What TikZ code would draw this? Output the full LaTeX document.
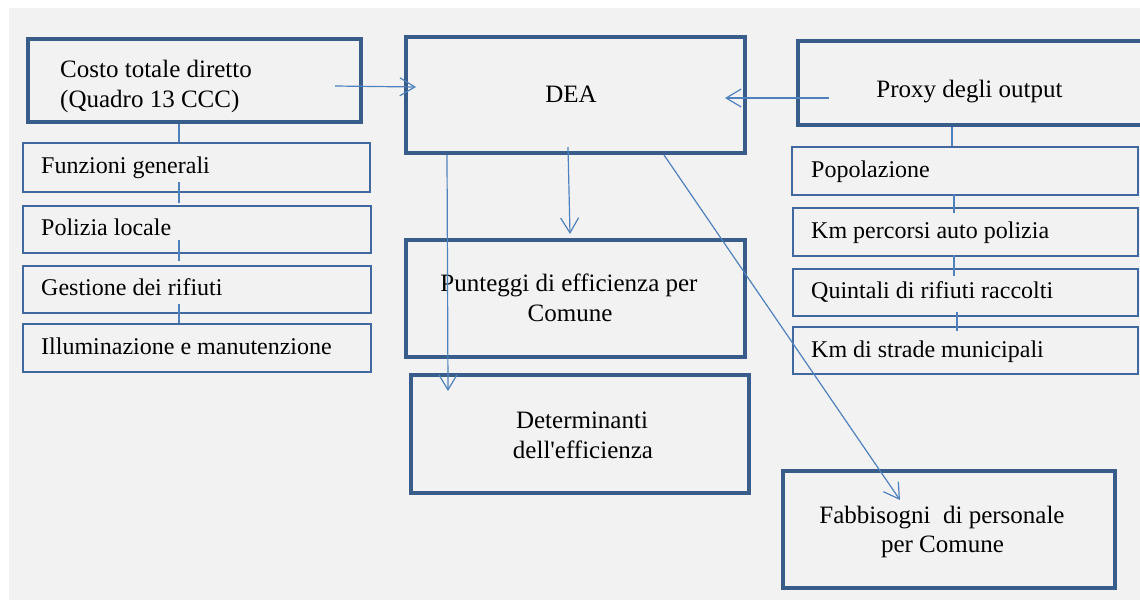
\documentclass[tikz,border=0pt]{standalone}
\usepackage{fontspec}
\setmainfont{Liberation Serif}
\usetikzlibrary{arrows.meta}
\definecolor{bgc}{HTML}{F2F2F2}
\definecolor{boxc}{HTML}{385D8A}
\definecolor{thinc}{HTML}{4169A0}
\definecolor{linec}{HTML}{4F81BD}
\tikzset{
  bigbox/.style={draw=boxc, line width=4pt, rectangle, inner sep=0pt},
  smallbox/.style={draw=thinc, line width=1.4pt, rectangle, inner sep=0pt},
  bigtxt/.style={font=\fontsize{25}{29}\selectfont, inner sep=0pt, anchor=base, text=black},
  lefttxt/.style={font=\fontsize{25}{29}\selectfont, inner sep=0pt, anchor=base west, text=black},
  smalltxt/.style={font=\fontsize{24}{27}\selectfont, inner sep=0pt, anchor=base west, text=black},
  link/.style={draw=linec, line width=1.2pt},
  arr/.style={link, -{Straight Barb[length=15pt,width=18pt]}},
}
\begin{document}
\begin{tikzpicture}[x=1pt,y=-1pt]
\useasboundingbox (0,0) rectangle (1140,600);
\clip (0,0) rectangle (1140,600);
\fill[bgc] (9,8) rectangle (1140,600);

% big boxes
\node[bigbox, minimum width=333pt, minimum height=83pt] (costo) at (194.5,80.5) {};
\node[bigbox, minimum width=339pt, minimum height=116pt] (dea) at (575.5,95) {};
\node[bigbox, minimum width=362pt, minimum height=84pt] (proxy) at (979,83) {};
\node[bigbox, minimum width=339pt, minimum height=117pt] (punt) at (575.5,298.5) {};
\node[bigbox, minimum width=338pt, minimum height=118pt] (det) at (580,434) {};
\node[bigbox, minimum width=332pt, minimum height=117pt] (fabb) at (949,529.5) {};

% small boxes left
\node[smallbox, minimum width=347pt, minimum height=49pt] (funz) at (196.5,167.5) {};
\node[smallbox, minimum width=348pt, minimum height=47pt] (poliz) at (197,229.5) {};
\node[smallbox, minimum width=348pt, minimum height=47pt] (gest) at (197,289.5) {};
\node[smallbox, minimum width=348pt, minimum height=48pt] (illum) at (197,348) {};
% small boxes right
\node[smallbox, minimum width=346pt, minimum height=48pt] (pop) at (965,171) {};
\node[smallbox, minimum width=345pt, minimum height=48pt] (kmp) at (965.5,232) {};
\node[smallbox, minimum width=345pt, minimum height=47pt] (quint) at (965.5,292.5) {};
\node[smallbox, minimum width=345pt, minimum height=47pt] (kms) at (965.5,350.5) {};

% texts
\node[lefttxt] (costoA) at (60,77) {Costo totale diretto};
\node[lefttxt] (costoB) at (60,107) {(Quadro 13 CCC)};
\node[bigtxt] (deaT) at (571,102) {DEA};
\node[bigtxt] (proxyT) at (969.5,97) {Proxy degli output};
\node[bigtxt] (puntA) at (569,291) {Punteggi di efficienza per};
\node[bigtxt] (puntB) at (570,321) {Comune};
\node[bigtxt] (detA) at (582,428) {Determinanti};
\node[bigtxt] (detB) at (583,458) {dell\textquotesingle efficienza};
\node[bigtxt] (fabbA) at (942,523) {Fabbisogni\ \ di personale};
\node[bigtxt] (fabbB) at (942.5,552) {per Comune};

\node[smalltxt] (funzT) at (41,173) {Funzioni generali};
\node[smalltxt] (polizT) at (41,235.5) {Polizia locale};
\node[smalltxt] (gestT) at (41,295) {Gestione dei rifiuti};
\node[smalltxt] (illumT) at (41,354) {Illuminazione e manutenzione};
\node[smalltxt] (popT) at (811,177) {Popolazione};
\node[smalltxt] (kmpT) at (811,238) {Km percorsi auto polizia};
\node[smalltxt] (quintT) at (811,298) {Quintali di rifiuti raccolti};
\node[smalltxt] (kmsT) at (811,357) {Km di strade municipali};

% connector end points
\coordinate (c1s) at (335,86);   \coordinate (c1e) at (416,87);
\coordinate (c2s) at (829,98);   \coordinate (c2e) at (725,98);
\coordinate (c3s) at (568,147);  \coordinate (c3e) at (570,234);
\coordinate (c4s) at (447,155);  \coordinate (c4e) at (448,391);
\coordinate (c5s) at (664,155);  \coordinate (c5e) at (900,500);

\draw[arr] (c1s) -- (c1e);
\draw[arr] (c2s) -- (c2e);
\draw[arr] (c3s) -- (c3e);
\draw[arr] (c4s) -- (c4e);
\draw[arr] (c5s) -- (c5e);

% vertical ties
\draw[link] (costo.south -| 179,0) -- (funz.north -| 179,0);
\coordinate (l1s) at (179,182); \coordinate (l1e) at (179,203);
\coordinate (l2s) at (179,240); \coordinate (l2e) at (179,261);
\coordinate (l3s) at (179,304); \coordinate (l3e) at (179,323);
\draw[link] (l1s) -- (l1e);
\draw[link] (l2s) -- (l2e);
\draw[link] (l3s) -- (l3e);
\draw[link] (proxy.south -| 952,0) -- (pop.north -| 952,0);
\coordinate (r1s) at (954,194); \coordinate (r1e) at (954,213);
\coordinate (r2s) at (954,255); \coordinate (r2e) at (954,276);
\coordinate (r3s) at (957,312); \coordinate (r3e) at (957,331);
\draw[link] (r1s) -- (r1e);
\draw[link] (r2s) -- (r2e);
\draw[link] (r3s) -- (r3e);
\end{tikzpicture}
\end{document}
